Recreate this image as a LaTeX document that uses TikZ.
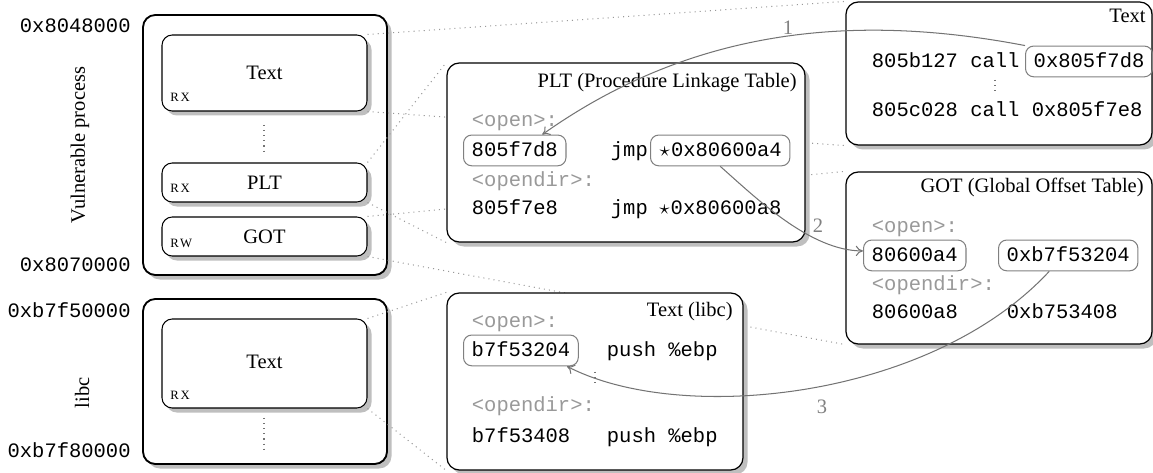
\documentclass[tikz,border=0pt]{standalone}
\usepackage{fontspec}
\setmainfont{Liberation Serif}
\setmonofont{Liberation Mono}
\usetikzlibrary{shadows,fit,arrows.meta}
\pgfdeclarelayer{back}
\pgfdeclarelayer{mid}
\pgfsetlayers{back,mid,main}
\tikzset{
  shadowed/.style={drop shadow={shadow xshift=2.2pt, shadow yshift=-2.2pt, fill=black!25, opacity=1}},
  outerbox/.style={draw, line width=0.9pt, rounded corners=6pt, fill=white, shadowed, inner sep=0pt},
  innerbox/.style={draw, line width=0.5pt, rounded corners=5pt, fill=white, shadowed, inner sep=0pt},
  panelbox/.style={draw, line width=0.6pt, rounded corners=6pt, fill=white, shadowed, inner sep=0pt},
  hlbox/.style={draw=black!50, line width=0.5pt, rounded corners=4pt, inner xsep=4pt, inner ysep=4.3pt,
                text height=6.4pt, text depth=0pt, font=\ttfamily, anchor=base west},
  codetxt/.style={font=\ttfamily, inner sep=0pt, anchor=base west},
  graytxt/.style={codetxt, text=black!40},
  addrtxt/.style={font=\ttfamily, inner sep=0pt, anchor=base east},
  titletxt/.style={inner sep=0pt, anchor=base east},
  segtxt/.style={inner sep=0pt, anchor=base},
  permtxt/.style={inner sep=0pt, anchor=base west, font=\fontsize{6.2}{7}\selectfont},
  numtxt/.style={inner sep=0pt, text=black!50, font=\fontsize{10}{12}\selectfont},
  dotline/.style={dotted, black!40, line width=0.5pt},
  ellip/.style={dotted, black!55, line width=0.5pt},
  flowarrow/.style={-{To[length=3.5pt,width=5pt]}, black!55, line width=0.5pt},
}
\begin{document}
\begin{tikzpicture}[x=0.488pt, y=-0.488pt, font=\fontsize{10}{12}\selectfont]
\useasboundingbox (0,0) rectangle (1153,473);

% ---------- left: memory layout ----------
\begin{pgfonlayer}{back}
\node[outerbox, fit={(143,15) (387,275)}] (vp) {};
\node[innerbox, fit={(162,35) (367,111)}] (vtext) {};
\node[innerbox, fit={(162,163) (367,202)}] (vplt) {};
\node[innerbox, fit={(162,217) (367,256)}] (vgot) {};
\node[outerbox, fit={(143,299) (387,464)}] (lb) {};
\node[innerbox, fit={(162,319) (367,408)}] (ltext) {};
\end{pgfonlayer}

\node[segtxt] (vtextlbl) at (264.5,80) {Text};
\node[segtxt] (vpltlbl) at (264.5,190) {PLT};
\node[segtxt] (vgotlbl) at (264.5,244) {GOT};
\node[segtxt] (ltextlbl) at (264.5,369) {Text};
\node[permtxt] (perm1) at (170,102) {R\kern0.9pt X};
\node[permtxt] (perm2) at (170,193) {R\kern0.9pt X};
\node[permtxt] (perm3) at (170,248) {R\kern0.6pt W};
\node[permtxt] (perm4) at (170,400) {R\kern0.9pt X};

\coordinate (e1a) at (264,125);
\coordinate (e1b) at (264,155);
\draw[ellip] (e1a) -- (e1b);
\coordinate (e2a) at (264,418);
\coordinate (e2b) at (264,451);
\draw[ellip] (e2a) -- (e2b);

\node[addrtxt] (a1) at (131,33) {0x8048000};
\node[addrtxt] (a2) at (131,272) {0x8070000};
\node[addrtxt] (a3) at (131,318) {0xb7f50000};
\node[addrtxt] (a4) at (131,458) {0xb7f80000};

\node[rotate=90, inner sep=0pt] (vplbl) at (80,145) {Vulnerable process};
\node[rotate=90, inner sep=0pt] (lblbl) at (82,393) {libc};

% ---------- panels ----------
\node[panelbox, fit={(447,63) (805,242)}] (plt) {};
\node[panelbox, fit={(846,2) (1152,145)}] (rtext) {};
\node[panelbox, fit={(846,172) (1152,344)}] (got) {};
\node[panelbox, fit={(447,293) (743,470)}] (ltx) {};

% PLT panel
\node[titletxt] (plttitle) at (797,88) {PLT (Procedure Linkage Table)};
\node[graytxt] (pl1) at (471.5,127) {<open>:};
\node[hlbox] (p1) at (463,157) {805f7d8};
\node[codetxt] (pj1) at (610.5,157) {jmp};
\node[hlbox] (p2) at (650,157) {\makebox[0.6em]{$\star$}0x80600a4};
\node[graytxt] (pl2) at (471.5,187) {<opendir>:};
\node[codetxt] (pa2) at (471.5,215) {805f7e8};
\node[codetxt] (pj2) at (610.5,215) {jmp};
\node[codetxt] (pt2) at (658,215) {\makebox[0.6em]{$\star$}0x80600a8};

% Text panel (right)
\node[titletxt] (rtitle) at (1146,23) {Text};
\node[codetxt] (r1) at (871.5,68) {805b127 call};
\node[hlbox] (c1) at (1025,68) {0x805f7d8};
\coordinate (e3a) at (995,80);
\coordinate (e3b) at (995,95);
\draw[ellip] (e3a) -- (e3b);
\node[codetxt] (r2) at (871.5,117) {805c028 call 0x805f7e8};

% GOT panel
\node[titletxt] (gtitle) at (1144,193) {GOT (Global Offset Table)};
\node[graytxt] (gl1) at (871.5,233) {<open>:};
\node[hlbox] (g1) at (863,262) {80600a4};
\node[hlbox] (g2) at (998,262) {0xb7f53204};
\node[graytxt] (gl2) at (871.5,291) {<opendir>:};
\node[codetxt] (ga2) at (871.5,319) {80600a8};
\node[codetxt] (gv2) at (1006.5,319) {0xb753408};

% Text (libc) panel
\node[titletxt] (ltitle) at (733,317) {Text (libc)};
\node[graytxt] (ll1) at (471.5,328) {<open>:};
\node[hlbox] (b1) at (463,357) {b7f53204};
\node[codetxt] (bp1) at (606.5,357) {push \%ebp};
\coordinate (e4a) at (595,372);
\coordinate (e4b) at (595,387);
\draw[ellip] (e4a) -- (e4b);
\node[graytxt] (ll2) at (471.5,412) {<opendir>:};
\node[codetxt] (ba2) at (471.5,443) {b7f53408};
\node[codetxt] (bp2) at (606.5,443) {push \%ebp};

% ---------- dotted mapping lines ----------
\begin{pgfonlayer}{mid}
\draw[dotline] (vtext.north east) -- (rtext.north west);
\draw[dotline] (vtext.south east) -- (rtext.south west);
\draw[dotline] (vplt.north east) -- (plt.north west);
\draw[dotline] (vplt.south east) -- (plt.south west);
\draw[dotline] (vgot.north east) -- (got.north west);
\draw[dotline] (vgot.south east) -- (got.south west);
\draw[dotline] (ltext.north east) -- (ltx.north west);
\draw[dotline] (ltext.south east) -- (ltx.south west);
\end{pgfonlayer}

% ---------- flow arrows ----------
\draw[flowarrow] (c1.north west) .. controls (850,12) and (690,30) .. (p1.30);
\draw[flowarrow] (p2.south) .. controls (755,197) and (810,251) .. (g1.175);
\draw[flowarrow] (g2.220) .. controls (930,400) and (680,425) .. (b1.341);
\node[numtxt] (n1) at (788,28) {1};
\node[numtxt] (n2) at (818,226) {2};
\node[numtxt] (n3) at (822,407) {3};
\end{tikzpicture}
\end{document}
